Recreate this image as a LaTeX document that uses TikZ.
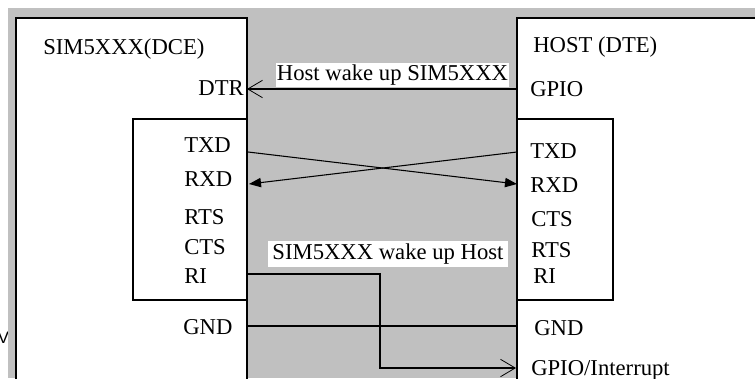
\documentclass[tikz,border=0pt]{standalone}
\usepackage{fontspec}
\setmainfont{Liberation Serif}
\newfontfamily\sansv{Liberation Sans}
\usetikzlibrary{arrows.meta}
\definecolor{bggray}{HTML}{C0C0C0}

\begin{document}
\begin{tikzpicture}[x=0.75pt,y=-0.75pt,
  font=\fontsize{17}{18}\selectfont,
  pinl/.style={anchor=base west,inner sep=0pt},
  pinr/.style={anchor=base east,inner sep=0pt},
  tag/.style={fill=white,inner sep=0pt,minimum height=18pt},
  wire/.style={line width=0.8pt},
  openarrow/.style={-{Straight Barb[length=11pt,width=13pt,line width=0.6pt]}},
  fillarrow/.style={-{Triangle[length=9pt,width=7pt]}}]
\useasboundingbox (0,0) rectangle (755,378);
\clip (0,0) rectangle (755,378);

\node[font=\sansv\fontsize{12.5}{13}\selectfont,inner sep=0pt] (vfrag) at (3.5,337.5) {V};
\fill[bggray] (8,8) rectangle (755,378);

% SIM5XXX side
\draw[line width=1.2pt,fill=white] (16,390) -- (16,18) -- (247,18) -- (247,390);
\draw[line width=1.2pt,fill=white] (133,119) rectangle (247,300);
% host side
\draw[line width=1.2pt,fill=white] (517,390) -- (517,18) -- (760,18) -- (760,390);
\draw[line width=1.2pt,fill=white] (517,119) rectangle (613,300);

\node[pinl] (dce) at (43,55) {SIM5XXX(DCE)};
\node[pinr] (dtr) at (244,95) {DTR};
\node[pinl] (ltxd) at (184,152) {TXD};
\node[pinl] (lrxd) at (184,186) {RXD};
\node[pinl] (lrts) at (184,224) {RTS};
\node[pinl] (lcts) at (184,254) {CTS};
\node[pinl] (lri) at (184,283) {RI};
\node[pinl] (lgnd) at (183,334) {GND};

\node[pinl] (dte) at (533,53) {HOST (DTE)};
\node[pinl] (gpio) at (530,96) {GPIO};
\node[pinl] (rtxd) at (530,158) {TXD};
\node[pinl] (rrxd) at (530,192) {RXD};
\node[pinl] (rcts) at (531,226) {CTS};
\node[pinl] (rrts) at (531,257) {RTS};
\node[pinl] (rri) at (533,283) {RI};
\node[pinl] (rgnd) at (534,335) {GND};
\node[pinl] (irq) at (531,375) {GPIO/Interrupt};

% pin ends on the box edges
\coordinate (pdtr) at (247,89);
\coordinate (pgpio) at (517,89);
\coordinate (pltxd) at (248,152);
\coordinate (plrxd) at (249,184);
\coordinate (prtxd) at (517,152);
\coordinate (prrxd) at (517,184);
\coordinate (plri) at (247,274);
\coordinate (pturn) at (380,368);
\coordinate (pirq) at (516,368);
\coordinate (plgnd) at (247,326);
\coordinate (prgnd) at (517,326);

\draw[wire,openarrow] (pgpio) -- (pdtr);
\draw[wire,fillarrow] (pltxd) -- (prrxd);
\draw[wire,fillarrow] (prtxd) -- (plrxd);
\draw[wire] (plgnd) -- (prgnd);
\draw[wire,openarrow] (plri) -| (pturn) -- (pirq);

\node[tag,minimum width=174.75pt] (hostwake) at (392.5,75) {Host wake up SIM5XXX};
\node[tag,minimum width=180pt,minimum height=20pt] (simwake) at (388,254) {SIM5XXX wake up Host};
\end{tikzpicture}
\end{document}
